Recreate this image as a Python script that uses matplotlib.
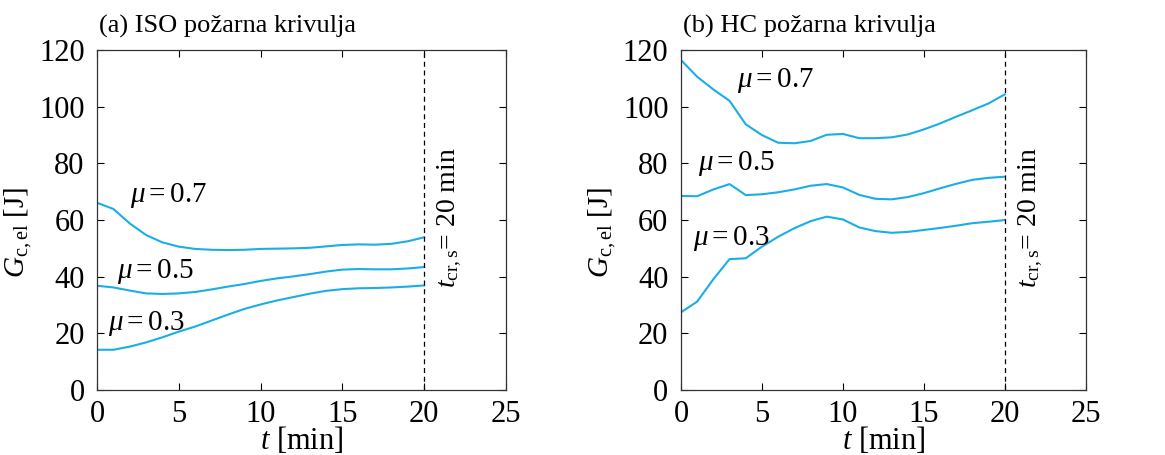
import numpy as np
import matplotlib
matplotlib.use("Agg")
import matplotlib.pyplot as plt

plt.rcParams["font.family"] = ["Liberation Serif", "DejaVu Serif"]
plt.rcParams["mathtext.fontset"] = "custom"
plt.rcParams["mathtext.rm"] = "Liberation Serif"
plt.rcParams["mathtext.it"] = "Liberation Serif:italic"

t = list(range(21))

# (a) ISO curve
iso_07 = [66.1, 63.9, 58.8, 54.7, 52.1, 50.6, 49.8, 49.5, 49.4, 49.5, 49.8,
          49.9, 50.0, 50.2, 50.7, 51.2, 51.4, 51.3, 51.6, 52.5, 53.9]
iso_05 = [36.8, 36.2, 35.1, 34.1, 33.9, 34.1, 34.6, 35.5, 36.5, 37.4, 38.5,
          39.4, 40.1, 40.9, 41.8, 42.5, 42.7, 42.6, 42.6, 42.9, 43.4]
iso_03 = [14.2, 14.2, 15.3, 16.8, 18.6, 20.6, 22.4, 24.5, 26.6, 28.6, 30.2,
          31.6, 32.8, 34.0, 35.0, 35.6, 35.9, 36.0, 36.2, 36.5, 36.9]

# (b) HC curve
hc_07 = [116.5, 110.6, 106.1, 102.1, 93.8, 90.0, 87.3, 87.1, 87.9, 90.1, 90.4,
         88.9, 88.9, 89.2, 90.2, 92.0, 94.1, 96.5, 98.8, 101.2, 104.4]
hc_05 = [68.5, 68.4, 70.8, 72.7, 68.8, 69.1, 69.8, 70.8, 72.1, 72.7, 71.5,
         68.9, 67.5, 67.3, 68.1, 69.5, 71.2, 72.8, 74.2, 74.9, 75.3]
hc_03 = [27.4, 31.2, 39.1, 46.2, 46.5, 50.6, 54.1, 57.1, 59.6, 61.2, 60.2,
         57.4, 56.1, 55.5, 55.8, 56.5, 57.2, 58.0, 58.9, 59.4, 60.0]

mu_labels = [r"$\mu = 0.7$", r"$\mu = 0.5$", r"$\mu = 0.3$"]
titles = ["(a) ISO požarna krivulja", "(b) HC požarna krivulja"]
t_cr = 20
color = "#1aaee6"

fig = plt.figure(figsize=(11.65, 4.55), dpi=100)
ax1 = fig.add_axes([0.0833, 0.1429, 0.351, 0.747])
ax2 = fig.add_axes([0.5845, 0.1429, 0.3476, 0.747])

panels = [
    (ax1, [iso_07, iso_05, iso_03], [(2.0, 68.8), (1.2, 41.8), (0.65, 23.5)]),
    (ax2, [hc_07, hc_05, hc_03], [(3.45, 109.4), (1.05, 80.0), (0.75, 53.5)]),
]

for i, (ax, series, lab_pos) in enumerate(panels):
    for ys in series:
        ax.plot(t, ys, color=color, lw=1.5)
    for lab, (x, y) in zip(mu_labels, lab_pos):
        ax.text(x, y, lab, fontsize=21, va="center", ha="left")
    ax.axvline(t_cr, color="black", lw=0.9, ls=(0, (4, 3)))
    ax.text(21.6, 61, r"$t_{\mathrm{cr,s}}$= 20 min", rotation=90,
            fontsize=20, va="center", ha="center")
    ax.set_xlim(0, 25)
    ax.set_ylim(0, 120)
    ax.set_xticks([0, 5, 10, 15, 20, 25])
    ax.set_yticks(np.arange(0, 121, 20))
    ax.tick_params(direction="in", length=5, labelsize=22, top=True,
                   right=True)
    ax.tick_params(axis="y", pad=9)
    ax.tick_params(axis="x", pad=7)
    for s in ax.spines.values():
        s.set_color("#333333")
        s.set_linewidth(0.9)
    ax.set_xlabel(r"$t$ [min]", fontsize=22, labelpad=-3)
    ax.set_ylabel(r"$G_{\mathrm{c,el}}$ [J]", fontsize=21)
    ax.yaxis.set_label_coords(-0.155, 0.465)
    ax.text(0.005, 1.07, titles[i], transform=ax.transAxes, fontsize=19,
            va="center", ha="left")

fig.savefig("out.png", dpi=100)
